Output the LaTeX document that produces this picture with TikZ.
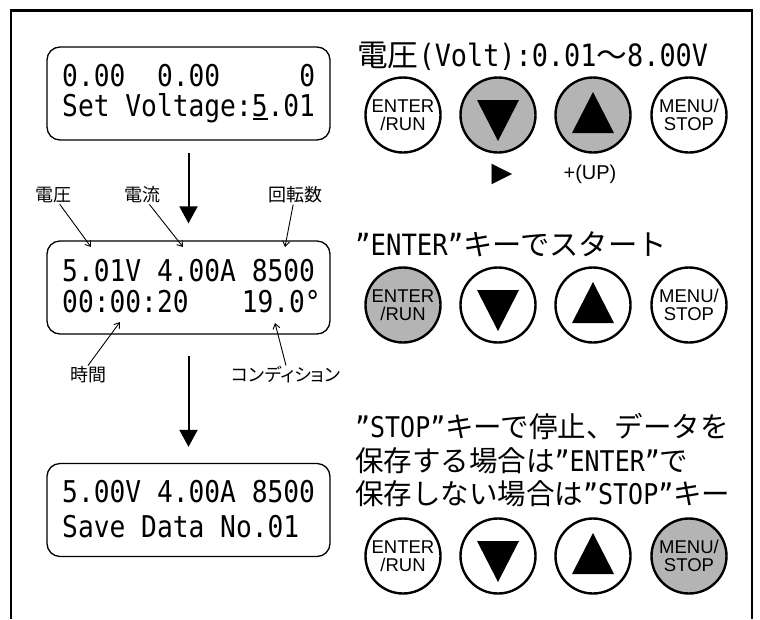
\documentclass[tikz,border=0pt]{standalone}
\usepackage{fontspec}
\usetikzlibrary{arrows.meta,calc}
\newfontfamily\lcdf[FakeStretch=0.875]{DejaVu Sans Mono}
\newfontfamily\jpf{Noto Sans CJK JP}
\newfontfamily\jppf[RawFeature=+palt]{Noto Sans CJK JP}
\newfontfamily\btnf{Liberation Sans}
\newfontfamily\symf{DejaVu Sans}
\newcommand\jpt[1]{{\jpf #1}}
\definecolor{btngray}{RGB}{180,180,180}
\newcommand\dtri[1]{\fill ($(#1)+(-21,-15)$) -- ($(#1)+(21,-15)$) -- ($(#1)+(0,26)$) -- cycle;}
\newcommand\utri[1]{\fill ($(#1)+(-21,18)$) -- ($(#1)+(21,18)$) -- ($(#1)+(0,-23)$) -- cycle;}
\begin{document}
\begin{tikzpicture}[x=1pt,y=-1pt,
  lcdbox/.style={draw, line width=1.3pt, rounded corners=13pt, minimum width=283pt, minimum height=93pt, inner sep=0},
  lcdtxt/.style={anchor=base west, inner sep=0, font=\fontsize{30}{30}\selectfont\lcdf},
  lbl/.style={inner sep=1pt, font=\fontsize{18}{18}\selectfont\jpf},
  lblarrow/.style={line width=0.9pt, -{Straight Barb[length=5pt,width=7pt]}},
  bigarrow/.style={line width=2pt, -{Triangle[length=17pt,width=18pt]}},
  btn/.style={circle, draw, line width=2.4pt, minimum size=75pt, inner sep=0, align=center, font=\fontsize{18.5}{18}\selectfont\btnf},
  grayb/.style={btn, fill=btngray},
  head/.style={anchor=base west, inner sep=0},
]
\useasboundingbox (0,0) rectangle (760,619);
% frame
\draw[line width=2.5pt] (11,619) -- (11,10.5) -- (752,10.5) -- (752,619);

% LCD 1
\node[lcdbox] (lcd1) at (188.5,93.5) {};
\node[lcdtxt] (l1a) at (62,86) {0.00\ \ 0.00\ \ \ \ \ 0};
\node[lcdtxt] (l1b) at (62,116) {Set Voltage:5.01};
\draw[line width=2pt] (252.5,119) -- (267.5,119);

% LCD 2
\node[lcdbox] (lcd2) at (188.5,287.5) {};
\node[lcdtxt] (l2a) at (62,281) {5.01V 4.00A 8500};
\node[lcdtxt] (l2b) at (62,312) {00:00:20};
\node[lcdtxt, anchor=base east] (l2c) at (321,312) {19.0°};

% LCD 3
\node[lcdbox] (lcd3) at (188.5,510) {};
\node[lcdtxt] (l3a) at (62,502) {5.00V 4.00A 8500};
\node[lcdtxt] (l3b) at (62,537) {Save Data No.01};

% big arrows
\draw[bigarrow, shorten <=12pt, shorten >=17pt] (lcd1.south) -- (lcd2.north);
\draw[bigarrow, shorten <=21pt, shorten >=16pt] (lcd2.south) -- (lcd3.north);

% labels
\node[lbl] (lV) at (53,195) {電圧};
\node[lbl] (lA) at (142,195) {電流};
\node[lbl] (lR) at (295,195) {回転数};
\node[lbl] (lT) at (88,375) {時間};
\node[lbl, font=\fontsize{18}{18}\selectfont\jppf] (lC) at (286,375) {コンディション};
\coordinate (tV) at (91,247);
\coordinate (tA) at (183,247);
\coordinate (tR) at (285,247);
\coordinate (tT) at (120,322);
\coordinate (tC) at (275,323);
\draw[lblarrow] (lV) -- (tV);
\draw[lblarrow] (lA) -- (tA);
\draw[lblarrow] (lR) -- (tR);
\draw[lblarrow] (lT.north) -- (tT);
\draw[lblarrow] (lC.north) -- (tC);

% headings
\node[head, font=\fontsize{30.7}{31}\selectfont\lcdf] (h1) at (357,66) {\jpt{電圧}(Volt):0.01\jpt{〜}8.00V};
\node[head, font=\fontsize{29.3}{30}\selectfont\lcdf] (h2) at (355,255) {”ENTER”\jpt{キーでスタート}};
\node[head, font=\fontsize{28.5}{29}\selectfont\lcdf] (h3a) at (355,437) {”STOP”\jpt{キーで停止、データを}};
\node[head, font=\fontsize{28.5}{29}\selectfont\lcdf] (h3b) at (355,471) {\jpt{保存する場合は}”ENTER”\jpt{で}};
\node[head, font=\fontsize{28.5}{29}\selectfont\lcdf] (h3c) at (355,504) {\jpt{保存しない場合は}”STOP”\jpt{キー}};

% row 1
\node[btn] (e1) at (403,115) {ENTER\\/RUN};
\node[grayb] (d1) at (498,115) {};
\node[grayb] (u1) at (593,115) {};
\node[btn] (m1) at (689,115) {MENU/\\STOP};
\dtri{d1}
\utri{u1}
\node[inner sep=0, font=\fontsize{27}{27}\selectfont\symf] (play) at (502,174) {▶};
\node[inner sep=0, font=\fontsize{20}{20}\selectfont\btnf] (plus) at (590,174) {+(UP)};

% row 2
\node[grayb] (e2) at (403,305) {ENTER\\/RUN};
\node[btn] (d2) at (498,305) {};
\node[btn] (u2) at (593,305) {};
\node[btn] (m2) at (689,305) {MENU/\\STOP};
\dtri{d2}
\utri{u2}

% row 3
\node[btn] (e3) at (403,556) {ENTER\\/RUN};
\node[btn] (d3) at (498,556) {};
\node[btn] (u3) at (593,556) {};
\node[grayb] (m3) at (689,556) {MENU/\\STOP};
\dtri{d3}
\utri{u3}
\end{tikzpicture}
\end{document}
